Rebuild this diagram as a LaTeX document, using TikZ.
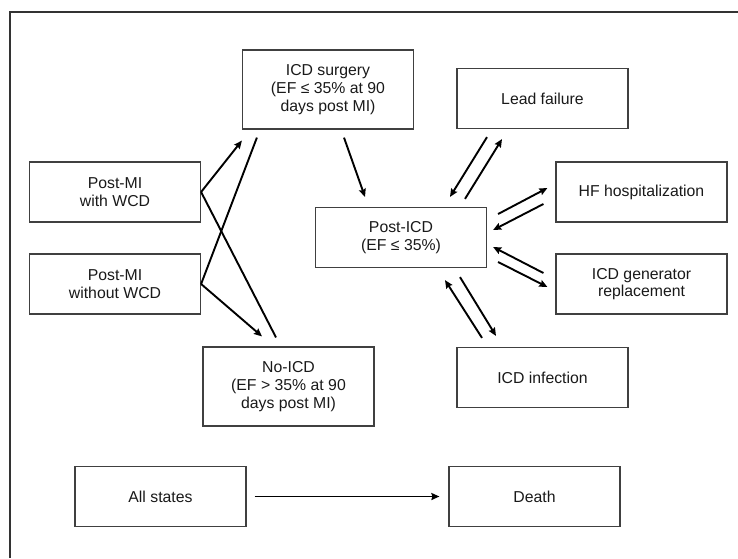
\documentclass[tikz,border=0pt]{standalone}
\usepackage{fontspec}
\setmainfont{Liberation Sans}
\usetikzlibrary{calc,arrows.meta}
\begin{document}
\begin{tikzpicture}[x=1pt,y=-1pt,
  box/.style={draw=black!75,line width=1.2pt,minimum width=171pt,align=center,inner sep=0pt,
    font=\fontsize{15.8}{17.7}\selectfont,text=black!90},
  sbox/.style={box,minimum height=60pt},
  tbox/.style={box,minimum height=79pt},
  arr/.style={line width=1.9pt,-{Stealth[length=8pt,width=7pt,inset=1pt]}},
  ln/.style={line width=1.9pt}]
\useasboundingbox (0,0) rectangle (738,558);
\draw[line width=2.2pt,black!80] (10,558) -- (10,12) -- (738,12);
\node[tbox] (surg) at (328,89.5) {ICD surgery\\(EF ≤ 35\% at 90\\days post MI)};
\node[sbox] (wcd) at (115,192) {Post-MI\\with WCD};
\node[sbox] (nowcd) at (115,284) {Post-MI\\without WCD};
\node[sbox] (post) at (401,237.5) {Post-ICD\\(EF ≤ 35\%)};
\node[sbox] (lead) at (542.5,98.5) {Lead failure};
\node[sbox] (hf) at (641.5,192) {HF hospitalization};
\node[sbox] (gen) at (641.5,284) {ICD generator\\replacement};
\node[sbox] (inf) at (542.5,377.5) {ICD infection};
\node[tbox] (noicd) at (288.5,386.5) {No-ICD\\(EF > 35\% at 90\\days post MI)};
\node[sbox] (all) at (160.5,496.5) {All states};
\node[sbox] (death) at (534.5,496.5) {Death};
% left side
\draw[arr] (wcd.east) -- ($(surg.south west)+(0,11)$);
\draw[ln] (wcd.east) -- ($(noicd.north)+(-12.5,-9)$);
\draw[arr] (nowcd.east) -- ($(noicd.north)+(-26.5,-10)$);
\draw[ln] (nowcd.east) -- ($(surg.south west)+(15,8)$);
\draw[arr] ($(surg.south)+(16,8)$) -- ($(post.north)+(-36,-10)$);
% right side
\draw[arr] ($(lead.south)+(-55.5,8)$) -- ($(post.north)+(49,-10)$);
\draw[arr] ($(post.north)+(64,-8)$) -- ($(lead.south)+(-40.5,10)$);
\draw[arr] ($(post.east)+(11,-23.5)$) -- ($(hf.west)+(-8,-4)$);
\draw[arr] ($(hf.west)+(-12,12)$) -- ($(post.east)+(6,-7.5)$);
\draw[arr] ($(gen.west)+(-12,-11)$) -- ($(post.east)+(6,9.5)$);
\draw[arr] ($(post.east)+(11,24.5)$) -- ($(gen.west)+(-8,3)$);
\draw[arr] ($(inf.north)+(-60.5,-9)$) -- ($(post.south)+(44,12)$);
\draw[arr] ($(post.south)+(59,9)$) -- ($(inf.north)+(-46.5,-11)$);
% bottom
\draw[arr] ($(all.east)+(8,0)$) -- ($(death.west)+(-9,0)$);
\end{tikzpicture}
\end{document}
